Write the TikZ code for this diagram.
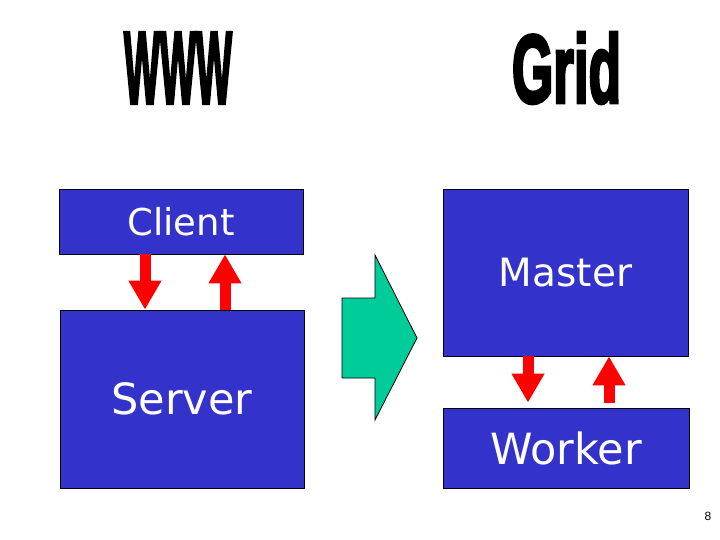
\documentclass[tikz,border=0pt]{standalone}
\usepackage{fontspec}
\setmainfont{DejaVu Sans}
\newfontfamily\titlefont{Liberation Sans}
\newfontfamily\heavyfont[FakeBold=4]{Liberation Sans Bold}
\usetikzlibrary{arrows.meta}

\definecolor{boxblue}{RGB}{51,51,204}
\definecolor{shiftgreen}{RGB}{0,204,153}

\tikzset{
	box/.style={draw=black, fill=boxblue, text=white, inner sep=0pt, line width=0.8pt},
	redarrow/.style={draw=red, line width=11pt, -{Triangle[width=31pt,length=29pt]}},
	title/.style={font=\heavyfont},
}

\begin{document}
\begin{tikzpicture}[x=1pt,y=-1pt]
		
		\useasboundingbox (0,0) rectangle (720,540);
		
		\node[title] (www) at (178,68) {\resizebox{108pt}{70pt}{WWW}};
		\node[title] (grid) at (566.5,68) {\resizebox{109pt}{70pt}{Grid}};
		
		% left side
		\node[box, minimum width=244pt, minimum height=65pt, font=\fontsize{37}{40}\selectfont] (client) at (181,221.5) {Client};
		\node[box, minimum width=244pt, minimum height=178pt, font=\fontsize{43}{46}\selectfont] (server) at (182,399) {Server};
		
		\draw[redarrow] (145,0 |- client.south) -- (145,0 |- server.north);
		\draw[redarrow] (225,0 |- server.north) -- (225,0 |- client.south);
		
		% right side
		\node[box, minimum width=245pt, minimum height=167pt, font=\fontsize{39}{42}\selectfont] (master) at (565.5,272.5) {Master};
		\node[box, minimum width=246pt, minimum height=80pt, font=\fontsize{43}{46}\selectfont] (worker) at (566,448) {Worker};
		
		\draw[redarrow, shorten >=5pt] (528,0 |- master.south) -- (528,0 |- worker.north);
		\draw[redarrow, shorten <=5pt] (609,0 |- worker.north) -- (609,0 |- master.south);
		
		% big arrow between
		\draw[fill=shiftgreen, line width=0.8pt] (342,298) -- (375,298) -- (375,255) -- (417,338) -- (375,420) -- (375,378) -- (342,378) -- cycle;
		
		\node[font=\titlefont\fontsize{12}{12}\selectfont] (page) at (708,516) {8};
		
\end{tikzpicture}
\end{document}
